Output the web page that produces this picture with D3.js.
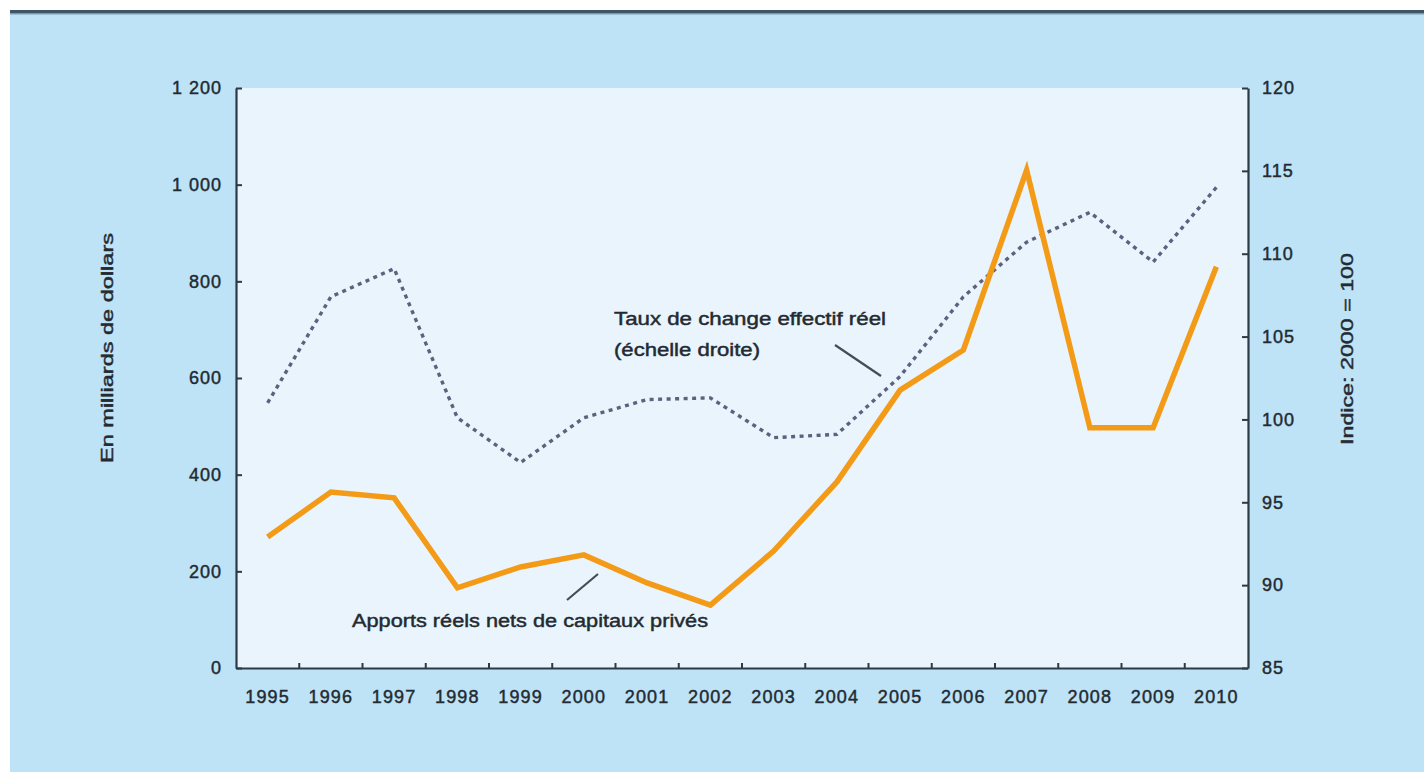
<!DOCTYPE html>
<html>
<head>
<meta charset="utf-8">
<script src="https://cdn.jsdelivr.net/npm/d3@7"></script>
<style>
  body { margin: 0; background: #ffffff; }
  svg { display: block; }
  text { font-family: "Liberation Sans", Arial, sans-serif; fill: #232a31; stroke: #232a31; stroke-width: 0.45px; }
</style>
</head>
<body>
<svg id="chart" width="1424" height="772"></svg>
<script>
// ---- data ----
const years = [1995, 1996, 1997, 1998, 1999, 2000, 2001, 2002, 2003, 2004, 2005, 2006, 2007, 2008, 2009, 2010];
const capitalFlows = [271, 364, 352, 166, 209, 234, 176, 130, 242, 385, 575, 658, 1030, 497, 497, 830];
const exchangeRate = [101.0, 107.4, 109.1, 100.1, 97.4, 100.1, 101.2, 101.3, 98.9, 99.1, 102.6, 107.4, 110.7, 112.5, 109.5, 114.0];
const leftTicks = [0, 200, 400, 600, 800, 1000, 1200];
const rightTicks = [85, 90, 95, 100, 105, 110, 115, 120];
const leftTitle = "En milliards de dollars";
const rightTitle = "Indice: 2000 = 100";
const flowLabel = "Apports réels nets de capitaux privés";
const rateLabel = ["Taux de change effectif réel", "(échelle droite)"];

// ---- layout ----
const W = 1424, H = 772;
const plot = { left: 236, right: 1248, top: 88, bottom: 668 };
const svg = d3.select("#chart");

// background panel + top rule
svg.append("rect").attr("x", 0).attr("y", 0).attr("width", W).attr("height", H).attr("fill", "#ffffff");
svg.append("rect").attr("x", 10).attr("y", 14).attr("width", W - 10).attr("height", H - 14).attr("fill", "#bee3f6");
svg.append("rect").attr("x", 10).attr("y", 10).attr("width", W - 10).attr("height", 3).attr("fill", "#3b5668");
svg.append("rect").attr("x", 10).attr("y", 13).attr("width", W - 10).attr("height", 1.5).attr("fill", "#7f98a6");

// plot background
svg.append("rect")
  .attr("x", plot.left).attr("y", plot.top)
  .attr("width", plot.right - plot.left).attr("height", plot.bottom - plot.top)
  .attr("fill", "#eaf4fc");

// ---- scales ----
const x = d3.scaleBand().domain(years).range([plot.left, plot.right]);
const cx = d => x(d) + x.bandwidth() / 2;
const yL = d3.scaleLinear().domain([0, 1200]).range([plot.bottom, plot.top]);
const yR = d3.scaleLinear().domain([85, 120]).range([plot.bottom, plot.top]);

const fr = d3.formatLocale({ decimal: ",", thousands: " ", grouping: [3], currency: ["", " €"] });
const fmt = fr.format(",");

const axisColor = "#2b3a46";

// left axis
const gL = svg.append("g").attr("transform", `translate(${plot.left},0)`)
  .call(d3.axisLeft(yL).tickValues(leftTicks).tickFormat(fmt).tickSize(-6).tickSizeOuter(0).tickPadding(14));
// right axis
const gR = svg.append("g").attr("transform", `translate(${plot.right},0)`)
  .call(d3.axisRight(yR).tickValues(rightTicks).tickSize(-6).tickSizeOuter(0).tickPadding(14));
// bottom axis
const gB = svg.append("g").attr("transform", `translate(0,${plot.bottom})`)
  .call(d3.axisBottom(x).tickSize(0).tickSizeOuter(0).tickPadding(22));

[gL, gR, gB].forEach(g => {
  g.select(".domain").attr("stroke", axisColor).attr("stroke-width", 2.2);
  g.selectAll(".tick line").attr("stroke", axisColor).attr("stroke-width", 2);
  g.selectAll(".tick text").attr("font-size", 18).attr("fill", "#232a31")
    .attr("font-family", "Liberation Sans, Arial, sans-serif").attr("letter-spacing", 1);
});
gB.selectAll(".tick text").attr("letter-spacing", 1.2);

// bottom tick marks at year boundaries (pointing up)
svg.append("g").selectAll("line").data(years.slice(1)).join("line")
  .attr("x1", d => x(d)).attr("x2", d => x(d))
  .attr("y1", plot.bottom).attr("y2", plot.bottom - 5)
  .attr("stroke", axisColor).attr("stroke-width", 2);

// axis titles
svg.append("text")
  .attr("transform", `translate(113,348) rotate(-90)`)
  .attr("text-anchor", "middle").attr("font-size", 17)
  .attr("textLength", 230).attr("lengthAdjust", "spacingAndGlyphs")
  .text(leftTitle);
svg.append("text")
  .attr("transform", `translate(1353,349) rotate(-90)`)
  .attr("text-anchor", "middle").attr("font-size", 17)
  .attr("textLength", 192).attr("lengthAdjust", "spacingAndGlyphs")
  .text(rightTitle);

// ---- lines ----
const lineFlow = d3.line().x((d, i) => cx(years[i])).y(d => yL(d));
const lineRate = d3.line().x((d, i) => cx(years[i])).y(d => yR(d));

svg.append("path").datum(exchangeRate)
  .attr("d", lineRate).attr("fill", "none")
  .attr("stroke", "#5c6180").attr("stroke-width", 3.4)
  .attr("stroke-dasharray", "4,4.5");

svg.append("path").datum(capitalFlows)
  .attr("d", lineFlow).attr("fill", "none")
  .attr("stroke", "#f39a16").attr("stroke-width", 5.5)
  .attr("stroke-linejoin", "miter");

// ---- annotations ----
svg.append("text").attr("x", 614).attr("y", 325).attr("font-size", 18)
  .attr("textLength", 272).attr("lengthAdjust", "spacingAndGlyphs").text(rateLabel[0]);
svg.append("text").attr("x", 614).attr("y", 356).attr("font-size", 18)
  .attr("textLength", 146).attr("lengthAdjust", "spacingAndGlyphs").text(rateLabel[1]);
svg.append("line").attr("x1", 835).attr("y1", 345).attr("x2", 881).attr("y2", 376)
  .attr("stroke", "#464c55").attr("stroke-width", 2.2);

svg.append("text").attr("x", 352).attr("y", 627).attr("font-size", 18)
  .attr("textLength", 356).attr("lengthAdjust", "spacingAndGlyphs").text(flowLabel);
svg.append("line").attr("x1", 567).attr("y1", 600).attr("x2", 598).attr("y2", 574)
  .attr("stroke", "#464c55").attr("stroke-width", 2.2);
</script>
</body>
</html>
